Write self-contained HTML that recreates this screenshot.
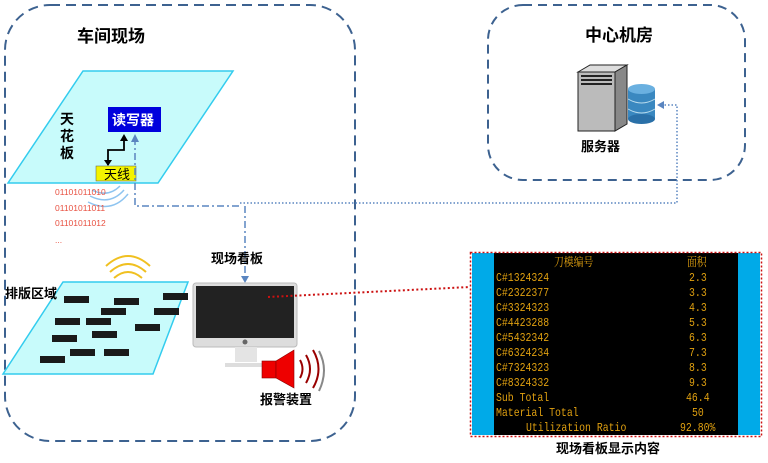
<!DOCTYPE html>
<html><head><meta charset="utf-8"><style>
body{margin:0;background:#fff;width:768px;height:463px;overflow:hidden}
svg{display:block}
text{font-family:"Liberation Sans","Noto Sans CJK SC",sans-serif}
text.m{font-family:"Liberation Mono","Noto Serif CJK SC",monospace;fill:#e0a010;font-size:12px}
</style></head><body>
<svg width="768" height="463" viewBox="0 0 768 463">
<!-- boxes -->
<rect x="5" y="5" width="350" height="436" rx="45" fill="none" stroke="#3d6290" stroke-width="2" stroke-dasharray="10,6"/>
<rect x="488" y="5" width="257" height="175" rx="35" fill="none" stroke="#3d6290" stroke-width="2" stroke-dasharray="9,6"/>
<text x="77" y="42" font-size="17" font-weight="bold">车间现场</text>
<text x="585" y="41" font-size="17" font-weight="bold">中心机房</text>
<!-- ceiling -->
<polygon points="83,71 233,71 158,183 8,183" fill="#c8fbfb" stroke="#33ccee" stroke-width="1.5"/>
<text font-size="14" font-weight="bold"><tspan x="60" y="124">天</tspan><tspan x="60" y="141">花</tspan><tspan x="60" y="158">板</tspan></text>
<rect x="108" y="107" width="53" height="25" fill="#0000dd"/>
<text x="112" y="125" font-size="14" font-weight="bold" fill="#fff">读写器</text>
<rect x="96" y="166" width="40" height="15" fill="#f4f400" stroke="#555" stroke-width="0.5"/>
<text x="104" y="179" font-size="13">天线</text>
<polyline points="108,165 108,150 124,150 124,136" fill="none" stroke="#000" stroke-width="1.8"/>
<polygon points="104,160 112,160 108,166" fill="#000"/>
<polygon points="120,141 128,141 124,134" fill="#000"/>
<path d="M92,190 q16,8 28,-4 M90,196 q20,10 34,-6 M88,202 q24,12 40,-8" fill="none" stroke="#8ec4f0" stroke-width="1.5"/>
<g font-size="8.5" fill="#e85040"><text x="55" y="195">01101011010</text><text x="55" y="211">01101011011</text><text x="55" y="226">01101011012</text><text x="55" y="243">...</text></g>
<!-- connectors -->
<polyline points="135,138 135,206 240,206" fill="none" stroke="#5a85c0" stroke-width="1.5" stroke-dasharray="7,3,2,3"/>
<polygon points="131,142 139,142 135,134" fill="#5a85c0"/>
<polyline points="240,203 677,203 677,105 663,105" fill="none" stroke="#5a85c0" stroke-width="1.5" stroke-dasharray="1.5,2"/>
<polygon points="664,101 664,109 657,105" fill="#5a85c0"/>
<line x1="245" y1="206" x2="245" y2="278" stroke="#5a85c0" stroke-width="1.5" stroke-dasharray="7,3,2,3"/>
<polygon points="241,276 249,276 245,283" fill="#5a85c0"/>
<!-- server -->
<polygon points="578,72 590,65 627,65 615,72" fill="#ddd" stroke="#222"/>
<polygon points="615,72 627,65 627,124 615,131" fill="#888" stroke="#222"/>
<rect x="578" y="72" width="37" height="59" fill="#bbb" stroke="#222"/>
<rect x="581" y="75" width="31" height="2" fill="#222"/><rect x="581" y="79" width="31" height="2" fill="#222"/><rect x="581" y="83" width="31" height="2" fill="#222"/>
<rect x="628" y="89" width="27" height="30" fill="#3a88c0"/>
<ellipse cx="641.5" cy="89" rx="13.5" ry="5" fill="#6ab0e0"/>
<ellipse cx="641.5" cy="119" rx="13.5" ry="5" fill="#2a70a8"/>
<path d="M628,99 q13.5,8 27,0 M628,109 q13.5,8 27,0" stroke="#bde" fill="none"/>
<text x="581" y="151" font-size="13" font-weight="bold">服务器</text>
<!-- layout area -->
<polygon points="63,282 188,282 153,374 3,374" fill="#c8fbfb" stroke="#33ccee" stroke-width="1.5"/>
<text x="5" y="298" font-size="13" font-weight="bold">排版区域</text>
<g fill="#1a1a1a">
<rect x="64" y="296" width="25" height="7"/><rect x="114" y="298" width="25" height="7"/><rect x="163" y="293" width="25" height="7"/>
<rect x="101" y="308" width="25" height="7"/><rect x="154" y="308" width="25" height="7"/>
<rect x="55" y="318" width="25" height="7"/><rect x="86" y="318" width="25" height="7"/><rect x="135" y="324" width="25" height="7"/>
<rect x="52" y="335" width="25" height="7"/><rect x="92" y="331" width="25" height="7"/>
<rect x="70" y="349" width="25" height="7"/><rect x="104" y="349" width="25" height="7"/><rect x="40" y="356" width="25" height="7"/>
</g>
<path d="M114,278 q14,-12 28,0 M110,272 q18,-16 36,0 M106,266 q22,-20 44,0" fill="none" stroke="#f0c020" stroke-width="2"/>
<!-- monitor -->
<text x="211" y="263" font-size="13" font-weight="bold">现场看板</text>
<rect x="193" y="283" width="104" height="64" rx="3" fill="#ddd" stroke="#bbb"/>
<rect x="196" y="286" width="98" height="52" fill="#222"/>
<rect x="235" y="347" width="22" height="15" fill="#e4e4e4"/>
<rect x="225" y="363" width="42" height="4" fill="#ddd"/>
<circle cx="245" cy="342" r="2.5" fill="#666"/>
<line x1="268" y1="297" x2="470" y2="287" stroke="#cc1111" stroke-width="2" stroke-dasharray="2,2.5"/>
<!-- speaker -->
<rect x="262" y="361" width="14" height="17" fill="#ee0000" stroke="#800" stroke-width="0.6"/>
<polygon points="276,361 294,350 294,388 276,378" fill="#ee0000" stroke="#800" stroke-width="0.6"/>
<path d="M300,360 q5,9 0,18 M306,355 q8,14 0,28 M313,350 q11,19 0,38" fill="none" stroke="#900" stroke-width="2"/>
<path d="M319,351 q10,19 0,40" fill="none" stroke="#888" stroke-width="2"/>
<text x="260" y="404" font-size="13" font-weight="bold">报警装置</text>
<!-- table -->
<rect x="472" y="253" width="288" height="182" fill="#00aae8"/>
<rect x="494" y="253" width="244" height="182" fill="#000"/>
<rect x="470.5" y="252.5" width="291" height="184" fill="none" stroke="#cc1111" stroke-width="1.5" stroke-dasharray="2,2"/>
<g transform="translate(496,0) scale(0.82,1)">
<text class="m" x="70.7" y="266">刀模编号</text><text class="m" x="232.9" y="266">面积</text>
<text class="m" x="0" y="281">C#1324324</text><text class="m" x="235.4" y="281">2.3</text>
<text class="m" x="0" y="296">C#2322377</text><text class="m" x="235.4" y="296">3.3</text>
<text class="m" x="0" y="311">C#3324323</text><text class="m" x="235.4" y="311">4.3</text>
<text class="m" x="0" y="326">C#4423288</text><text class="m" x="235.4" y="326">5.3</text>
<text class="m" x="0" y="341">C#5432342</text><text class="m" x="235.4" y="341">6.3</text>
<text class="m" x="0" y="356">C#6324234</text><text class="m" x="235.4" y="356">7.3</text>
<text class="m" x="0" y="371">C#7324323</text><text class="m" x="235.4" y="371">8.3</text>
<text class="m" x="0" y="386">C#8324332</text><text class="m" x="235.4" y="386">9.3</text>
<text class="m" x="0" y="401">Sub Total</text><text class="m" x="231.7" y="401">46.4</text>
<text class="m" x="0" y="416">Material Total</text><text class="m" x="239" y="416">50</text>
<text class="m" x="36.6" y="431">Utilization Ratio</text><text class="m" x="224.4" y="431">92.80%</text>
</g>
<text x="556" y="453" font-size="13" font-weight="bold">现场看板显示内容</text>
</svg>
</body></html>
